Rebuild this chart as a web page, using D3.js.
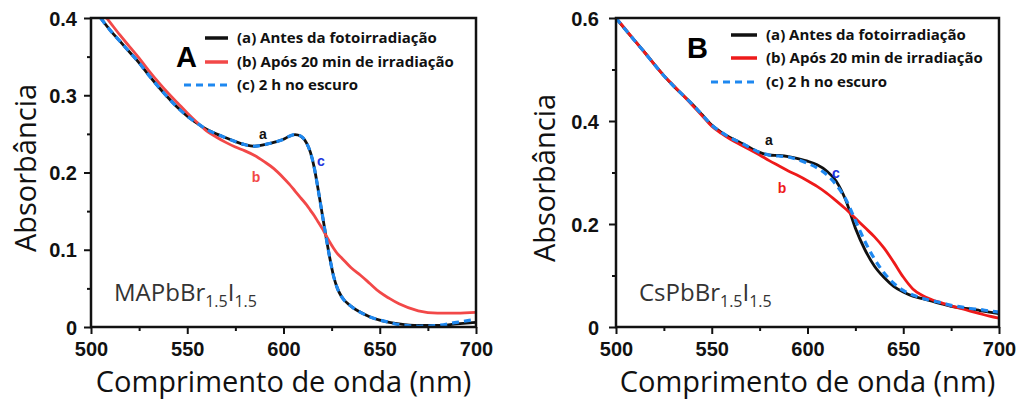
<!DOCTYPE html>
<meta charset="utf-8">
<style>
body { margin: 0; background: #fff; }
.tick text { font-family: "Liberation Sans", Arial, sans-serif; font-weight: bold; font-size: 20px; fill: #111; }
.tick line { stroke: #111; stroke-width: 2px; }
.domain { display: none; }
.title { font-family: "Open Sans", sans-serif; font-size: 29px; fill: #111; }
.leg { font-family: "Open Sans", sans-serif; font-weight: bold; font-size: 15px; fill: #111; }
.cmp { font-family: "Open Sans", sans-serif; font-size: 24px; fill: #333; }
.lbl { font-family: "Liberation Sans", Arial, sans-serif; font-weight: bold; font-size: 14px; }
</style>
<body>
<svg width="1019" height="400"></svg>
<script src="https://d3js.org/d3.v7.min.js"></script>
<script>

// ---- data ----
var xTicks = [500, 550, 600, 650, 700];
var xMinor = [525, 575, 625, 675];

var legendText = ["(a) Antes da fotoirradiação", "(b) Após 20 min de irradiação", "(c) 2 h no escuro"];

// panel A : MAPbBr1.5I1.5
var lamA = [505,510,515,520,525,530,535,540,545,550,555,560,565,570,575,580,585,590,595,600,
            603,606,609,612,614,616,618,620,622,624,626,628,630,635,640,645,650,655,660,670,680,690,700];
var absA_a = [0.400,0.384,0.370,0.356,0.342,0.326,0.311,0.297,0.284,0.273,0.264,0.256,0.250,0.245,0.240,0.236,0.234,0.236,0.239,0.243,
              0.247,0.249,0.247,0.238,0.226,0.206,0.178,0.148,0.118,0.090,0.066,0.050,0.040,0.027,0.019,0.013,0.009,0.006,0.004,0.002,0.002,0.004,0.006];
var absA_b = [0.410,0.394,0.378,0.363,0.348,0.332,0.317,0.303,0.290,0.277,0.265,0.254,0.246,0.239,0.233,0.228,0.222,0.214,0.205,0.193,
              0.185,0.176,0.167,0.158,0.151,0.144,0.136,0.128,0.119,0.110,0.102,0.095,0.090,0.077,0.067,0.056,0.045,0.037,0.030,0.021,0.018,0.018,0.019];
var absA_c = [0.400,0.384,0.370,0.356,0.342,0.326,0.311,0.297,0.284,0.273,0.264,0.256,0.250,0.245,0.240,0.236,0.234,0.236,0.239,0.243,
              0.247,0.249,0.247,0.238,0.226,0.206,0.178,0.148,0.118,0.090,0.066,0.050,0.040,0.027,0.019,0.013,0.009,0.006,0.003,0.001,0.002,0.006,0.010];
var yTicksA = [0, 0.1, 0.2, 0.3, 0.4];
var yMinorA = [0.05, 0.15, 0.25, 0.35];

// panel B : CsPbBr1.5I1.5
var lamB = [500,505,510,515,520,525,530,535,540,545,550,555,560,565,570,575,580,585,590,595,600,
            605,610,615,620,625,630,635,640,645,650,655,660,665,670,675,680,685,690,695,700];
var absB_a = [0.600,0.577,0.555,0.533,0.510,0.488,0.468,0.450,0.432,0.412,0.392,0.378,0.367,0.358,0.348,0.339,0.334,0.333,0.331,0.327,0.322,
              0.315,0.303,0.283,0.246,0.192,0.150,0.118,0.096,0.079,0.068,0.060,0.055,0.050,0.045,0.040,0.037,0.035,0.032,0.029,0.026];
var absB_b = [0.600,0.578,0.555,0.533,0.510,0.488,0.469,0.450,0.430,0.410,0.390,0.376,0.364,0.354,0.344,0.334,0.323,0.313,0.303,0.294,0.284,
              0.273,0.260,0.245,0.229,0.211,0.193,0.175,0.153,0.126,0.097,0.074,0.061,0.053,0.047,0.041,0.036,0.031,0.026,0.021,0.017];
var absB_c = [0.600,0.577,0.555,0.533,0.510,0.488,0.468,0.450,0.432,0.412,0.392,0.378,0.367,0.358,0.348,0.339,0.334,0.332,0.330,0.325,0.318,
              0.309,0.296,0.276,0.248,0.207,0.166,0.132,0.105,0.085,0.071,0.062,0.056,0.051,0.047,0.042,0.039,0.036,0.034,0.031,0.029];
var yTicksB = [0, 0.2, 0.4, 0.6];
var yMinorB = [0.1, 0.3, 0.5];

var svg = d3.select("svg");

function fmt(d){ return d === 0 ? "0" : d3.format(".1f")(d); }

function drawPanel(p){
	var x = d3.scaleLinear().domain([500, 700]).range([p.left, p.right]);
	var y = d3.scaleLinear().domain([0, p.ymax]).range([327, 18]);

	var g = svg.append("g");

	// axes
	g.append("g").attr("transform", "translate(0,327)")
		.call(d3.axisBottom(x).tickValues(xTicks).tickSize(7).tickPadding(8).tickFormat(d3.format("d")));
	g.append("g").attr("transform", "translate(0,327)")
		.call(d3.axisBottom(x).tickValues(xMinor).tickSize(4).tickFormat(""));
	g.append("g").attr("transform", "translate(" + p.left + ",0)")
		.call(d3.axisLeft(y).tickValues(p.yTicks).tickSize(7).tickPadding(p.pad).tickFormat(fmt))
		.selectAll("text").attr("dy", "0.36em");
	g.append("g").attr("transform", "translate(" + p.left + ",0)")
		.call(d3.axisLeft(y).tickValues(p.yMinor).tickSize(4).tickFormat(""));

	var clipId = "clip" + p.name;
	svg.append("clipPath").attr("id", clipId)
		.append("rect").attr("x", p.left).attr("y", 18).attr("width", p.right - p.left).attr("height", 309);

	var series = [
		{v: p.a, color: "#111", w: 2.8, dash: null},
		{v: p.b, color: p.red, w: 2.8, dash: null},
		{v: p.c, color: "#1e88f0", w: 3.2, dash: "7,5"}
	];
	var line = d3.line().curve(d3.curveMonotoneX)
		.x(function(d){ return x(d[0]); })
		.y(function(d){ return y(d[1]); });

	series.forEach(function(s){
		g.append("path")
			.attr("clip-path", "url(#" + clipId + ")")
			.attr("d", line(d3.zip(p.lam, s.v)))
			.attr("fill", "none")
			.attr("stroke", s.color)
			.attr("stroke-width", s.w)
			.attr("stroke-dasharray", s.dash);
	});

	// frame
	g.append("rect")
		.attr("x", p.left).attr("y", 18)
		.attr("width", p.right - p.left).attr("height", 309)
		.attr("fill", "none").attr("stroke", "#111").attr("stroke-width", 2.5);

	// titles
	g.append("text").attr("class", "title")
		.attr("x", (p.left + p.right) / 2).attr("y", 392)
		.attr("text-anchor", "middle")
		.text("Comprimento de onda (nm)");
	g.append("text").attr("class", "title")
		.attr("transform", "translate(" + p.ytx + "," + p.yty + ") rotate(-90)")
		.attr("text-anchor", "middle")
		.text("Absorbância");

	// legend
	var colors = ["#111", p.red, "#1e88f0"];
	legendText.forEach(function(t, i){
		var ly = p.legY[i];
		g.append("line")
			.attr("x1", i === 2 ? p.legX0c : p.legX0).attr("x2", p.legX1)
			.attr("y1", ly).attr("y2", ly)
			.attr("stroke", colors[i]).attr("stroke-width", i === 2 ? 3 : 3.5)
			.attr("stroke-dasharray", i === 2 ? "7,5" : null);
		g.append("text").attr("class", "leg")
			.attr("x", p.legX1 + 9).attr("y", ly).attr("dy", "0.35em")
			.text(t);
	});

	g.append("text")
		.attr("x", p.letterX).attr("y", p.letterY)
		.style("font-family", "Liberation Sans, Arial, sans-serif")
		.style("font-weight", "bold").style("font-size", "29px")
		.text(p.name);

	// compound
	var c = g.append("text").attr("class", "cmp").attr("x", p.cmpX).attr("y", 301);
	c.append("tspan").text(p.cmp);
	c.append("tspan").attr("dy", 6).style("font-size", "16px").text("1.5");
	c.append("tspan").attr("dy", -6).text("I");
	c.append("tspan").attr("dy", 6).style("font-size", "16px").text("1.5");

	// curve labels
	p.labels.forEach(function(l){
		g.append("text").attr("class", "lbl")
			.attr("x", l.x).attr("y", l.y).attr("dy", "0.35em")
			.attr("text-anchor", "middle")
			.attr("fill", l.c).text(l.t);
	});
}

drawPanel({
	name: "A", left: 91, right: 476, ymax: 0.4, yTicks: yTicksA, yMinor: yMinorA, pad: 7,
	lam: lamA, a: absA_a, b: absA_b, c: absA_c, red: "#f24848",
	ytx: 36, yty: 168,
	legY: [38, 62, 85], legX0: 205, legX0c: 184, legX1: 228,
	letterX: 176, letterY: 67,
	cmp: "MAPbBr", cmpX: 114,
	labels: [{t: "a", x: 263, y: 134, c: "#111"}, {t: "b", x: 256, y: 177, c: "#f24848"}, {t: "c", x: 321, y: 161, c: "#2233dd"}]
});

drawPanel({
	name: "B", left: 616, right: 999, ymax: 0.6, yTicks: yTicksB, yMinor: yMinorB, pad: 10,
	lam: lamB, a: absB_a, b: absB_b, c: absB_c, red: "#ee1a1a",
	ytx: 555, yty: 178,
	legY: [35, 58, 82], legX0: 731, legX0c: 711, legX1: 757,
	letterX: 687, letterY: 58,
	cmp: "CsPbBr", cmpX: 639,
	labels: [{t: "a", x: 769, y: 140, c: "#111"}, {t: "b", x: 782, y: 188, c: "#ee1a1a"}, {t: "c", x: 836, y: 173, c: "#2233dd"}]
});

</script>
</body>
</html>
